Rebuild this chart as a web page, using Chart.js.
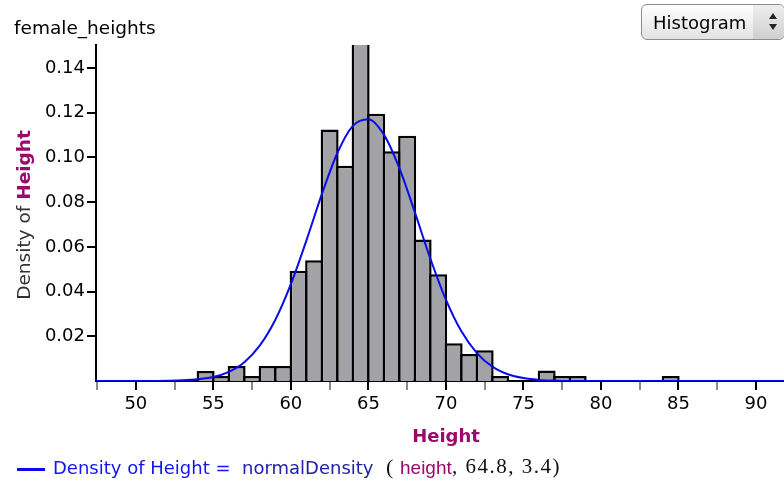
<!DOCTYPE html>
<html>
<head>
<meta charset="utf-8">
<script src="https://cdn.jsdelivr.net/npm/chart.js@4/dist/chart.umd.min.js"></script>
<style>
  body { margin: 0; background: #fff; }
  #wrap { position: relative; width: 784px; height: 482px; overflow: hidden; font-family: 'DejaVu Sans', sans-serif; }
  #c { position: absolute; left: 0; top: 0; }
  .t { position: absolute; white-space: pre; line-height: 1; }
  #title { left: 14px; top: 19px; font-size: 18.5px; color: #000; }
  #xtitle { left: 446px; top: 427px; font-size: 18px; font-weight: bold; color: #990a6c; transform: translateX(-50%); }
  #ytitle { left: 24px; top: 215px; font-size: 18.5px; color: #333; transform: translate(-50%, -50%) rotate(-90deg); }
  #ytitle b { color: #990a6c; }
  #btn { position: absolute; left: 641px; top: 4px; width: 142px; height: 34px; border: 1px solid #8c8c8c; border-radius: 6px;
         background: linear-gradient(#ffffff, #e2e2e2); overflow: hidden; }
  #btn .lbl { left: 11px; top: 9px; font-size: 18px; color: #000; }
  #btn .arr { position: absolute; left: 111px; top: 0; width: 31px; height: 34px; background: linear-gradient(#eeeeee, #cfcfcf); }
  .up, .dn { position: absolute; left: 16px; width: 0; height: 0; border-left: 4px solid transparent; border-right: 4px solid transparent; }
  .up { top: 8px; border-bottom: 6px solid #222; }
  .dn { top: 19px; border-top: 6px solid #222; }
  #lgline { position: absolute; left: 17px; top: 468px; width: 28px; height: 3px; background: #0a0aef; }
</style>
</head>
<body>
<div id="wrap">
  <canvas id="c" width="784" height="482"></canvas>
  <div class="t" id="title">female_heights</div>
  <div id="btn"><div class="t lbl">Histogram</div><div class="arr"><div class="up"></div><div class="dn"></div></div></div>
  <div class="t" id="ytitle">Density of <b>Height</b></div>
  <div class="t" id="xtitle">Height</div>
  <div id="lgline"></div>
  <div class="t" style="left:53px; top:459px; font-size:18px; color:#1414f0;">Density of Height =</div>
  <div class="t" style="left:242px; top:459px; font-size:18px; color:#2020a8;">normalDensity</div>
  <div class="t" style="left:386px; top:456px; font-size:22px; font-family:'Liberation Serif', serif; color:#111;">(</div>
  <div class="t" style="left:400px; top:458px; font-size:19px; font-family:'Liberation Sans', sans-serif; color:#990a6c;">height</div>
  <div class="t" style="left:452px; top:456px; font-size:21px; font-family:'Liberation Serif', serif; color:#111; letter-spacing:1.5px;">, 64.8, 3.4)</div>
</div>
<script>
// histogram bins (left edge of each 1-inch bin) and densities
const binStarts = [54, 55, 56, 57, 58, 59, 60, 61, 62, 63, 64, 65, 66, 67, 68, 69, 70, 71, 72, 73, 76, 77, 78, 84];
const densities = [0.0045, 0.0022, 0.0067, 0.0022, 0.0067, 0.0067, 0.0493, 0.0540, 0.1125, 0.0963, 0.161, 0.1195,
                   0.1028, 0.1097, 0.0633, 0.0478, 0.0169, 0.0121, 0.0137, 0.0022, 0.0047, 0.0022, 0.0022, 0.0022];

// blue density curve
const curveX = [47, 51, 52, 53, 54, 55, 56, 57, 58, 59, 60, 61, 62, 63, 64, 65, 66, 67, 68, 69, 70, 71, 72, 73, 74, 75, 76, 77, 78, 92];
const curveY = [0, 0, 0.0001, 0.0003, 0.0008, 0.0018, 0.0041, 0.0084, 0.0159, 0.0274, 0.0433, 0.0628, 0.0836, 0.1020, 0.1141,
                0.1171, 0.1102, 0.0952, 0.0754, 0.0547, 0.0364, 0.0222, 0.0125, 0.0064, 0.0030, 0.0013, 0.0005, 0.0002, 0, 0];

const xTicks = [47.5, 50, 52.5, 55, 57.5, 60, 62.5, 65, 67.5, 70, 72.5, 75, 77.5, 80, 82.5, 85, 87.5, 90];
const yTicks = [0.02, 0.04, 0.06, 0.08, 0.10, 0.12, 0.14];

let barPoints = binStarts.map((b, i) => ({ x: b + 0.5, y: densities[i] }));
let curvePoints = curveX.map((x, i) => ({ x: x, y: curveY[i] }));

const tickFont = { family: "'DejaVu Sans'", size: 18 };

new Chart(document.getElementById('c'), {
  type: 'bar',
  data: {
    datasets: [
      {
        type: 'line',
        data: curvePoints,
        borderColor: '#0a0aef',
        borderWidth: 2,
        pointRadius: 0,
        cubicInterpolationMode: 'monotone',
        order: 0
      },
      {
        type: 'bar',
        data: barPoints,
        backgroundColor: '#a3a2a7',
        borderColor: '#000',
        borderWidth: 2.5,
        barPercentage: 1.16,
        categoryPercentage: 1,
        clip: 0,
        order: 1
      }
    ]
  },
  options: {
    responsive: false,
    animation: false,
    layout: { padding: { top: 45, left: 0, right: 0, bottom: 0 } },
    plugins: { legend: { display: false }, tooltip: { enabled: false } },
    scales: {
      x: {
        type: 'linear',
        min: 47.43,
        max: 91.81,
        offset: false,
        afterFit: s => { s.height = 101; },
        afterBuildTicks: s => { s.ticks = xTicks.map(v => ({ value: v })); },
        border: { color: '#000', width: 2 },
        grid: {
          drawOnChartArea: false,
          offset: false,
          tickLength: 9,
          lineWidth: 2,
          tickColor: c => (c.tick && c.tick.value % 5 === 0) ? '#000' : '#8a8a8a'
        },
        ticks: {
          autoSkip: false,
          maxRotation: 0,
          padding: 4,
          color: '#000',
          font: tickFont,
          callback: v => v % 5 === 0 ? String(v) : ''
        }
      },
      y: {
        min: 0,
        max: 0.1503,
        afterFit: s => { s.width = 96; },
        afterBuildTicks: s => { s.ticks = yTicks.map(v => ({ value: v })); },
        border: { color: '#000', width: 2 },
        grid: { drawOnChartArea: false, tickLength: 9, lineWidth: 2, tickColor: '#000' },
        ticks: {
          padding: 2,
          color: '#000',
          font: tickFont,
          callback: v => v.toFixed(2)
        }
      }
    }
  }
});
</script>
</body>
</html>
